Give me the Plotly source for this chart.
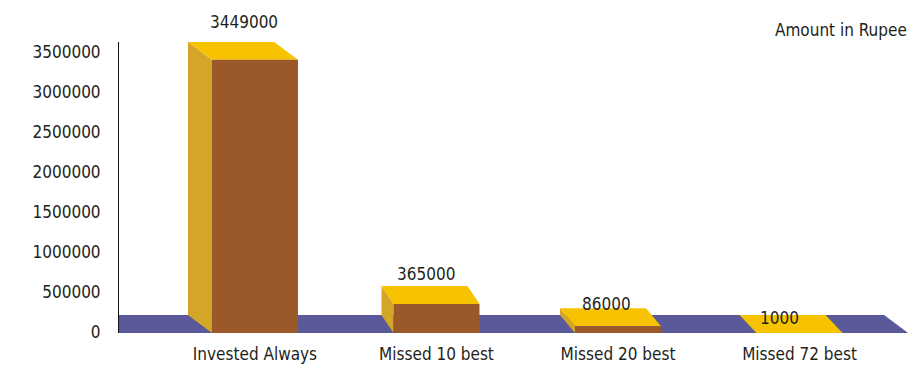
import plotly.graph_objects as go

# Data
categories = ["Invested Always", "Missed 10 best", "Missed 20 best", "Missed 72 best"]
amounts = [3449000, 365000, 86000, 1000]
y_ticks = [0, 500000, 1000000, 1500000, 2000000, 2500000, 3000000, 3500000]
unit_note = "Amount in Rupee"

# Canvas and plot-area geometry (pixels)
W, H = 909, 366
M_L, M_R, M_T, M_B = 119, 0, 42, 33
plot_w = W - M_L - M_R
plot_h = H - M_T - M_B

# Axis ranges: bars on y, the labelled scale on y2
x_range = [-0.749, 3.603]
y_range = [0, 3674000]
y2_range = [-12500, 3625000]
px_per_x = plot_w / (x_range[1] - x_range[0])
px_per_y = plot_h / (y_range[1] - y_range[0])

# 3D look: depth offset of the back plane (pixels), converted to data units
depth_dy_px = 18
side_dx_px = [24, 12, 15, 17]
floor_dx_px = 24
dy = depth_dy_px / px_per_y
bar_w = 86 / px_per_x

# Value label nudges (pixels)
label_dx = [1, -4, -4, -12]
label_dy = [20, 12, 4, -3]

FRONT = "#9B5829"
SIDE = "#D4A628"
TOP = "#F7C300"
FLOOR = "#5A5A9B"
TEXT = "#231F20"
FONT = "DejaVu Sans Condensed, Liberation Sans Narrow, Arial Narrow, sans-serif"
FS = 17

fig = go.Figure()


def face(xs, ys, color):
    fig.add_trace(go.Scatter(
        x=xs + [xs[0]], y=ys + [ys[0]], mode="lines", fill="toself",
        fillcolor=color, line=dict(width=0, color=color),
        hoverinfo="skip", showlegend=False,
    ))


# Floor slab
floor_right_front = x_range[1] - 0.005
floor_right_back = floor_right_front - floor_dx_px / px_per_x
face([x_range[0], x_range[0], floor_right_back, floor_right_front],
     [0, dy, dy, 0], FLOOR)

annotations = []
for i, (cat, v) in enumerate(zip(categories, amounts)):
    dx = side_dx_px[i] / px_per_x
    x0 = i - bar_w / 2
    x1 = i + bar_w / 2
    # left side face
    face([x0, x0, x0 - dx, x0 - dx], [0, v, v + dy, dy], SIDE)
    # top face
    face([x0, x1, x1 - dx, x0 - dx], [v, v, v + dy, v + dy], TOP)
    # front face
    face([x0, x1, x1, x0], [0, 0, v, v], FRONT)
    annotations.append(dict(
        x=i - dx / 2, y=v, xref="x", yref="y",
        text=f"{v}", showarrow=False,
        xshift=label_dx[i], yshift=depth_dy_px + label_dy[i],
        xanchor="center", yanchor="middle",
        font=dict(family=FONT, size=FS, color=TEXT),
    ))

annotations.append(dict(
    x=1, y=1 + (M_T - 30) / plot_h, xref="paper", yref="paper",
    text=unit_note, showarrow=False, xanchor="right", yanchor="middle",
    font=dict(family=FONT, size=FS, color=TEXT),
))

# Invisible carrier so the labelled scale is drawn
fig.add_trace(go.Scatter(x=[None], y=[None], yaxis="y2", showlegend=False,
                         hoverinfo="skip"))

fig.update_layout(
    width=W, height=H,
    margin=dict(l=M_L, r=M_R, t=M_T, b=M_B, pad=0),
    paper_bgcolor="white", plot_bgcolor="white",
    font=dict(family=FONT, size=FS, color=TEXT),
    annotations=annotations,
    xaxis=dict(
        range=x_range, tickmode="array", tickvals=list(range(len(categories))),
        ticktext=categories, showgrid=False, zeroline=False, showline=False,
        ticks="", ticklabelstandoff=9, fixedrange=True,
    ),
    yaxis=dict(
        range=y_range, showgrid=False, zeroline=False, showline=False,
        showticklabels=False, ticks="", fixedrange=True,
    ),
    yaxis2=dict(
        range=y2_range, overlaying="y", side="left",
        tickmode="array", tickvals=y_ticks,
        ticktext=[str(t) for t in y_ticks], showgrid=False, zeroline=False,
        showline=True, linecolor="#111", linewidth=1, ticks="",
        ticklabelstandoff=14, fixedrange=True,
    ),
)

fig.write_html("out.html")
